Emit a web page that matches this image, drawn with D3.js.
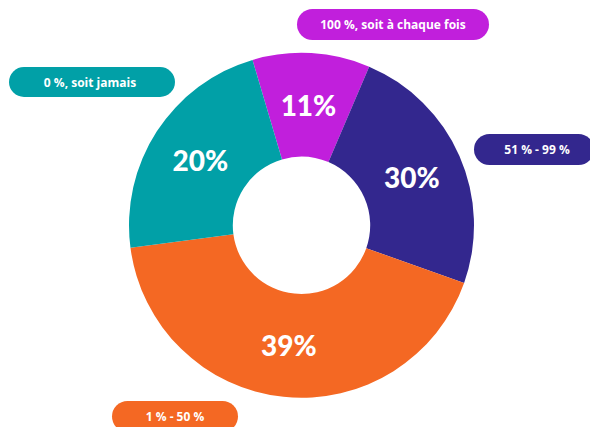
<!DOCTYPE html>
<html>
<head>
<meta charset="utf-8">
<script src="https://cdn.jsdelivr.net/npm/d3@7"></script>
<style>
  html, body { margin: 0; padding: 0; background: #fff; }
  svg { display: block; }
</style>
</head>
<body>
<svg id="chart" width="590" height="427"></svg>
<script>
// Data
const categories = ["100 %, soit à chaque fois", "51 % - 99 %", "1 % - 50 %", "0 %, soit jamais"];
const sliceValues = [11, 24, 42.5, 22.5];          // slice sizes as drawn
const sliceLabels = ["11%", "30%", "39%", "20%"];  // printed labels
const colors = ["#C11FDC", "#33278E", "#F46823", "#01A0A7"];

const svg = d3.select("#chart");
const cx = 301.5, cy = 225.3, rOuter = 172.5, rInner = 68.7;
const start = -16.5 * Math.PI / 180;

const pie = d3.pie().sort(null).value(d => d).startAngle(start).endAngle(start + 2 * Math.PI);
const arcs = pie(sliceValues);
const arc = d3.arc().innerRadius(rInner).outerRadius(rOuter);
const labelArc = d3.arc().innerRadius(rInner).outerRadius(rOuter);

const g = svg.append("g").attr("transform", `translate(${cx},${cy})`);
g.selectAll("path.slice").data(arcs).enter().append("path")
  .attr("class", "slice")
  .attr("d", arc)
  .attr("fill", (d, i) => colors[i]);

g.selectAll("text.pct").data(arcs).enter().append("text")
  .attr("class", "pct")
  .attr("transform", d => { const c = labelArc.centroid(d); return `translate(${c[0]},${c[1]})`; })
  .attr("text-anchor", "middle")
  .attr("dominant-baseline", "central")
  .attr("fill", "#fff")
  .style("font-family", "Lato, 'Open Sans', sans-serif")
  .style("font-weight", 900)
  .style("font-size", "28px")
  .text((d, i) => sliceLabels[i]);

// Pill legend labels
const pills = [
  { x: 297, y: 9, w: 192, h: 31 },
  { x: 474, y: 134, w: 120, h: 31 },
  { x: 112, y: 401, w: 126, h: 31 },
  { x: 9, y: 67, w: 166, h: 30 }
];
const textCenters = [393, 537, 175, 90];

const pg = svg.selectAll("g.pill").data(categories).enter().append("g").attr("class", "pill");
pg.append("rect")
  .attr("x", (d, i) => pills[i].x)
  .attr("y", (d, i) => pills[i].y)
  .attr("width", (d, i) => pills[i].w)
  .attr("height", (d, i) => pills[i].h)
  .attr("rx", (d, i) => pills[i].h / 2)
  .attr("fill", (d, i) => colors[i]);
pg.append("text")
  .attr("x", (d, i) => textCenters[i])
  .attr("y", (d, i) => pills[i].y + pills[i].h / 2)
  .attr("text-anchor", "middle")
  .attr("dominant-baseline", "central")
  .attr("fill", "#fff")
  .style("font-family", "'Open Sans', sans-serif")
  .style("font-weight", 700)
  .style("font-size", "12px")
  .text(d => d);
</script>
</body>
</html>
